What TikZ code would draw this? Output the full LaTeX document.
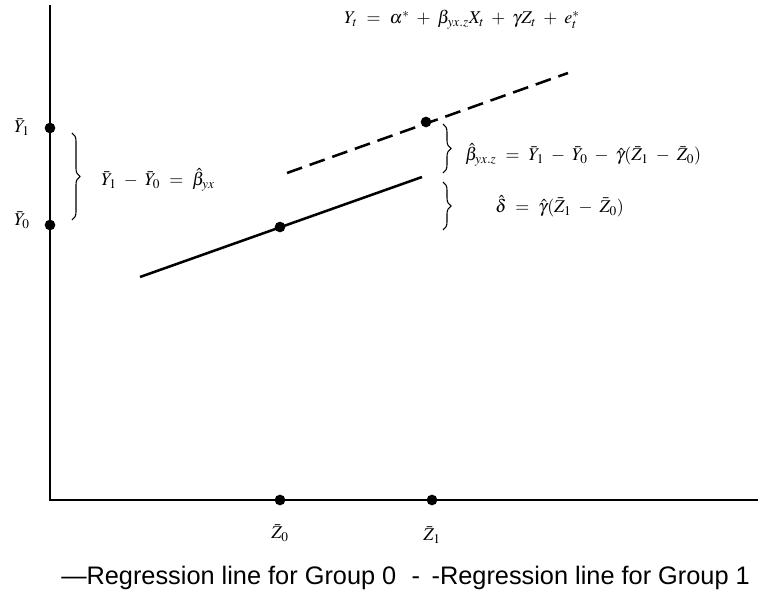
\documentclass[tikz,border=0pt]{standalone}
\usepackage{mathptmx}
\usepackage{fontspec}
\newfontfamily\legendfont{Liberation Sans}
\usetikzlibrary{decorations.pathreplacing}
\begin{document}
\begin{tikzpicture}[x=0.75pt,y=-0.75pt,
  axis/.style={line width=2.2pt},
  regline/.style={line width=1.9pt},
  dashline/.style={line width=1.9pt,dash pattern=on 12pt off 6pt},
  dot/.style={circle,fill=black,inner sep=0pt,minimum size=8pt},
  br/.style={decorate,decoration={brace,amplitude=6pt},line width=0.8pt},
  eq/.style={font=\fontsize{13.5}{15}\selectfont,inner sep=0pt},
  lbl/.style={font=\fontsize{13.5}{15}\selectfont,inner sep=0pt}]
\useasboundingbox (0,0) rectangle (758,598);
\thickmuskip=9mu plus 2mu
\medmuskip=7mu plus 2mu
% axes
\coordinate (ytop) at (50,5);
\coordinate (orig) at (50,500);
\coordinate (xend) at (758,500);
\draw[axis] (ytop) -- (orig) -- (xend);
% axis dots
\node[dot] (y1) at (50,128) {};
\node[dot] (y0) at (50,225) {};
\node[dot] (z0) at (280,500) {};
\node[dot] (z1) at (432,500) {};
\node[lbl] (ly1) at (22,127) {$\bar{Y}_1$};
\node[lbl] (ly0) at (22,220) {$\bar{Y}_0$};
\node[lbl] (lz0) at (280,533) {$\bar{Z}_0$};
\node[lbl] (lz1) at (432,535) {$\bar{Z}_1$};
% regression lines
\coordinate (s0) at (140,277);
\coordinate (s1) at (422,177);
\draw[regline] (s0) -- (s1);
\node[dot] (m0) at (280,227) {};
\coordinate (d0) at (287,173);
\coordinate (d1) at (568,73);
\draw[dashline] (d0) -- (d1);
\node[dot] (m1) at (426,122) {};
% braces
\coordinate (b1a) at (72,133);
\coordinate (b1b) at (72,220);
\draw[br] (b1a) -- (b1b);
\coordinate (b2a) at (443,124);
\coordinate (b2b) at (443,173);
\draw[br] (b2a) -- (b2b);
\coordinate (b3a) at (443,182);
\coordinate (b3b) at (443,230);
\draw[br] (b3a) -- (b3b);
% equations
\node[eq,anchor=west] (e1) at (101,180) {$\bar{Y}_1 - \bar{Y}_0 = \hat{\beta}_{yx}$};
\node[eq,anchor=west] (e2) at (465,155) {$\hat{\beta}_{yx.z} = \bar{Y}_1 - \bar{Y}_0 - \hat{\gamma}(\bar{Z}_1 - \bar{Z}_0)$};
\node[eq,anchor=west] (e3) at (495,206) {$\hat{\delta} = \hat{\gamma}(\bar{Z}_1 - \bar{Z}_0)$};
\node[eq] (top) at (462,20) {$Y_t = \alpha^* + \beta_{yx.z}X_t + \gamma Z_t + e_t^*$};
% legend
\node[inner sep=0pt,anchor=west,font=\legendfont\fontsize{19}{22}\selectfont] (leg) at (61,578)
  {—Regression line for Group 0\hspace{0.6em}-\hspace{0.46em}-Regression line for Group 1};
\end{tikzpicture}
\end{document}
